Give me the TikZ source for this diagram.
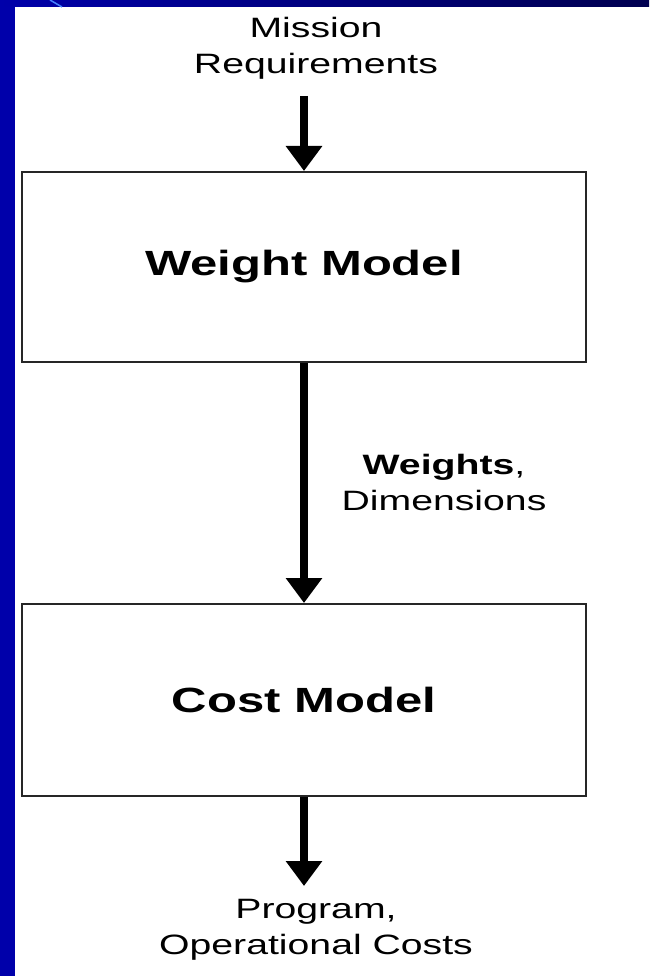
\documentclass[tikz,border=0pt]{standalone}
\usepackage{fontspec}
\setmainfont{Liberation Sans}[FakeStretch=1.4]
\usetikzlibrary{arrows.meta,positioning}

\definecolor{slideblue}{RGB}{0,0,170}
\definecolor{slidenavy}{RGB}{0,0,80}
\definecolor{slidestreak}{RGB}{70,130,255}

\begin{document}
\begin{tikzpicture}[x=1pt, y=-1pt,
  model/.style={rectangle, draw=black!85, line width=2pt, minimum width=564pt,
                minimum height=190pt, align=center,
                font=\fontsize{35}{40}\selectfont\bfseries},
  io/.style={align=center, inner sep=0pt, font=\fontsize{28}{36}\selectfont},
  arr/.style={-{Triangle[width=35pt,length=25pt]}, line width=8pt}]
  % slide frame
  \useasboundingbox (0,0) rectangle (649,976);
  \fill[white] (0,0) rectangle (649,976);
  \fill[slideblue] (0,0) rectangle (15,976);
  \shade[left color=slideblue, right color=slidenavy] (0,0) rectangle (649,7);
  \draw[slidestreak, line width=1.5pt] (50,0) -- (62,7);
  % models
  \node[model] (wm) at (304,267) {Weight Model};
  \node[model, below=240pt of wm, minimum height=192pt] (cm) {Cost Model};
  \node[io, above=91pt of wm, xshift=12pt] (req) {Mission\\Requirements};
  \node[io, below=102pt of cm, xshift=12pt] (out) {Program,\\Operational Costs};
  \node[io] (wd) at (444,482) {\textbf{Weights},\\Dimensions};
  % flow
  \draw[arr, shorten <=16pt] (wm.north |- req.south) -- (wm.north);
  \draw[arr] (wm) -- (cm);
  \draw[arr, shorten >=13pt] (cm) -- (cm.south |- out.north);
\end{tikzpicture}
\end{document}
